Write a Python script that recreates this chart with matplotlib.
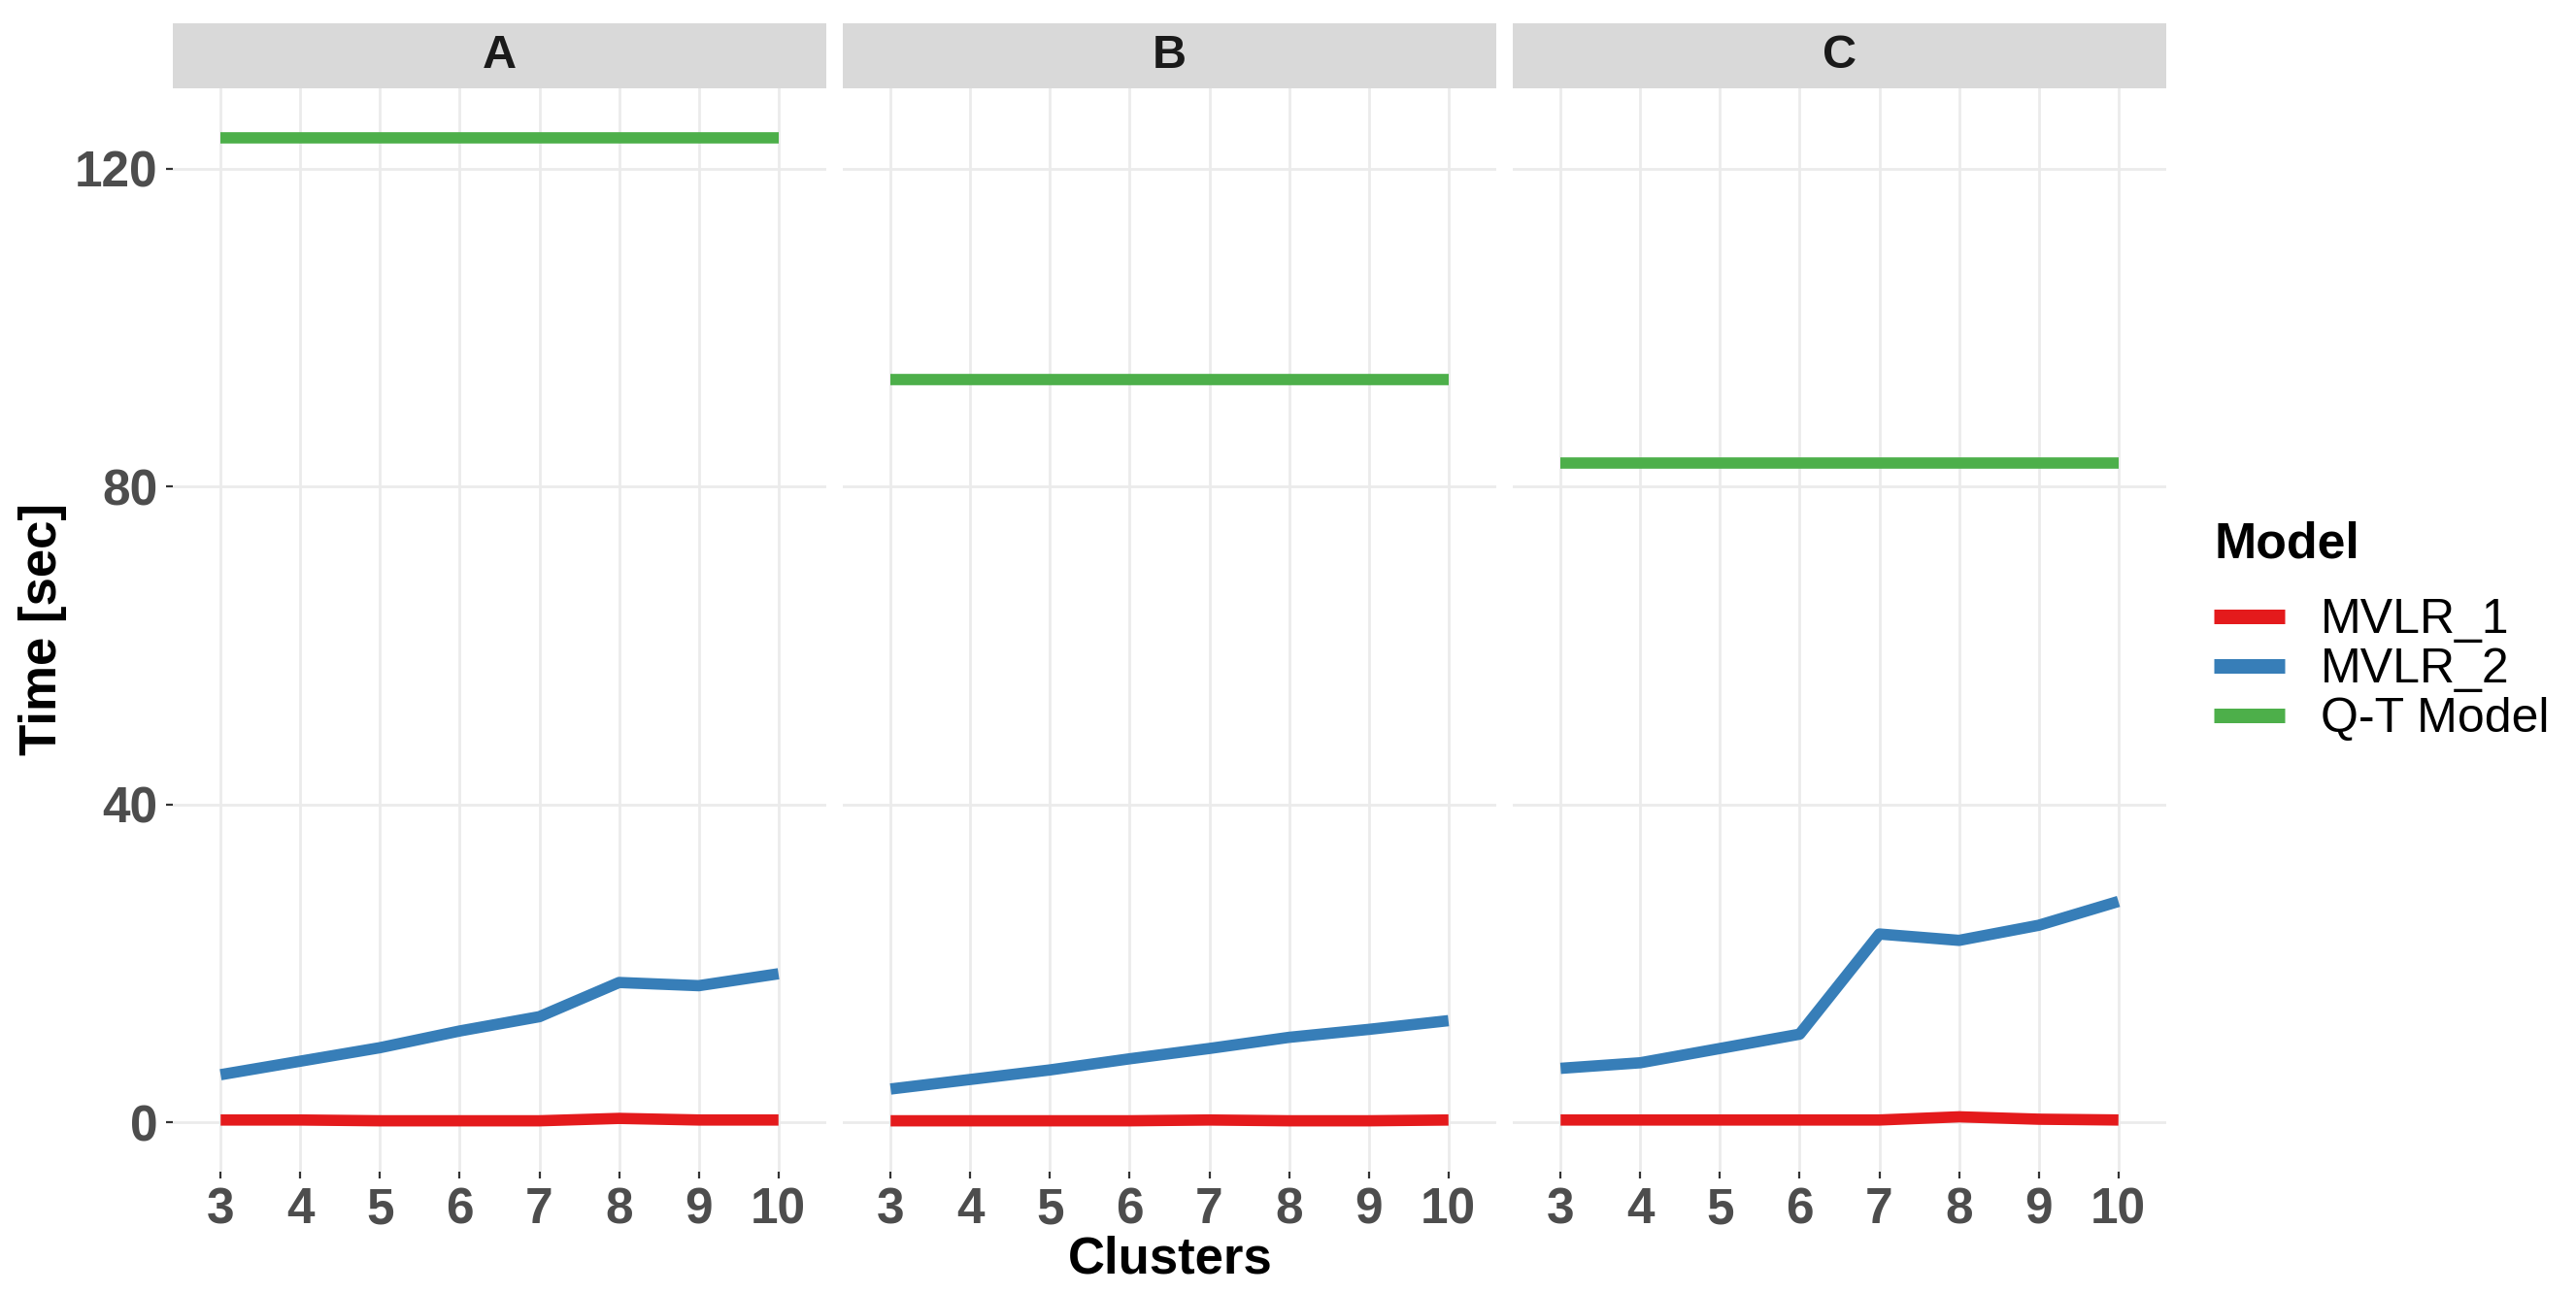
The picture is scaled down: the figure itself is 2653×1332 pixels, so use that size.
import numpy as np
import matplotlib.pyplot as plt
from matplotlib.patches import Rectangle

# data
clusters = [3, 4, 5, 6, 7, 8, 9, 10]
panels = ['A', 'B', 'C']
models = ['MVLR_1', 'MVLR_2', 'Q-T Model']
colors = ['#E41A1C', '#377EB8', '#4DAF4A']

mvlr1_A = [0.3, 0.3, 0.2, 0.2, 0.2, 0.5, 0.3, 0.3]
mvlr2_A = [6.0, 7.7, 9.4, 11.5, 13.3, 17.6, 17.2, 18.7]
qt_A = [123.9] * 8

mvlr1_B = [0.2, 0.2, 0.2, 0.2, 0.3, 0.2, 0.2, 0.3]
mvlr2_B = [4.2, 5.4, 6.6, 8.0, 9.3, 10.7, 11.7, 12.8]
qt_B = [93.4] * 8

mvlr1_C = [0.3, 0.3, 0.3, 0.3, 0.3, 0.7, 0.4, 0.3]
mvlr2_C = [6.8, 7.5, 9.3, 11.1, 23.7, 22.9, 24.8, 27.8]
qt_C = [83.0] * 8

series = {
    'A': [mvlr1_A, mvlr2_A, qt_A],
    'B': [mvlr1_B, mvlr2_B, qt_B],
    'C': [mvlr1_C, mvlr2_C, qt_C],
}
y_ticks = [0, 40, 80, 120]

W, H = 2653, 1332
fig = plt.figure(figsize=(W / 200, H / 200), dpi=200)

fam = ['Liberation Sans', 'DejaVu Sans']

lefts = [178, 868, 1558]
pw = 673
bottom, top = 1207, 91
strip_top = 24

handles = []
for k, (p, x0) in enumerate(zip(panels, lefts)):
    ax = fig.add_axes([x0 / W, 1 - bottom / H, pw / W, (bottom - top) / H])
    ax.set_xlim(2.4, 10.6)
    ax.set_ylim(-6.2, 130.1)
    for s in ax.spines.values():
        s.set_visible(False)
    ax.set_xticks(clusters)
    ax.set_yticks(y_ticks)
    ax.grid(True, color='#EBEBEB', linewidth=1.0)
    ax.set_axisbelow(True)
    ax.tick_params(axis='both', length=2.5, width=0.8, color='#333333', pad=3)
    ax.set_xticklabels([str(c) for c in clusters], fontsize=18.5, fontweight='bold',
                       color='#4D4D4D', family=fam)
    if k == 0:
        ax.set_yticklabels([str(t) for t in y_ticks], fontsize=18.5, fontweight='bold',
                           color='#4D4D4D', family=fam)
    else:
        ax.tick_params(axis='y', left=False, labelleft=False)
    for vals, name, col in zip(series[p], models, colors):
        ln, = ax.plot(clusters, vals, color=col, linewidth=4.2, solid_capstyle='butt', label=name)
        if k == 0:
            handles.append(ln)

    # facet strip
    sax = fig.add_axes([x0 / W, 1 - top / H, pw / W, (top - strip_top) / H])
    sax.add_patch(Rectangle((0, 0), 1, 1, color='#D9D9D9', transform=sax.transAxes))
    sax.set_axis_off()
    sax.text(0.5, 0.5, p, ha='center', va='center', fontsize=17.5, fontweight='bold',
             color='#1A1A1A', family=fam)

fig.text(1205 / W, 1 - 1298 / H, 'Clusters', ha='center', va='center', fontsize=19,
         fontweight='bold', family=fam)
fig.text(44 / W, 1 - 648 / H, 'Time [sec]', ha='center', va='center', rotation=90,
         fontsize=19, fontweight='bold', family=fam)

# legend title drawn separately to get the ggplot spacing
fig.text(2280 / W, 1 - 561 / H, 'Model', ha='left', va='center', fontsize=18.7,
         fontweight='bold', family=fam)
leg = fig.legend(handles=handles, labels=models, loc='upper left',
                 bbox_to_anchor=(2270 / W, 1 - 606 / H), frameon=False,
                 prop={'family': fam, 'size': 18},
                 handlelength=1.45, handletextpad=0.75, labelspacing=0.1,
                 borderaxespad=0, borderpad=0.2)
for h in leg.legend_handles:
    h.set_linewidth(5.4)
    h.set_solid_capstyle('butt')

fig.savefig('out.png', dpi=200, facecolor='white')
